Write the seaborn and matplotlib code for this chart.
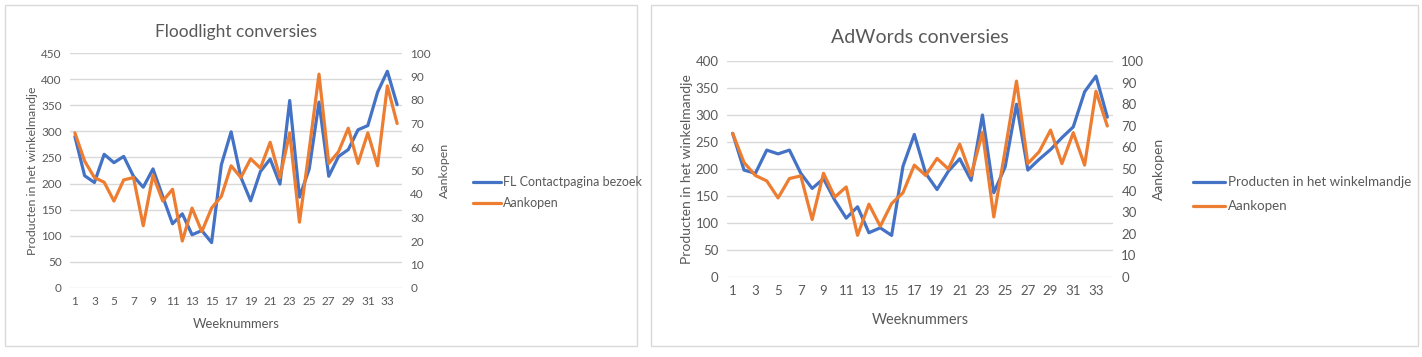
import matplotlib
matplotlib.use("Agg")
import matplotlib.pyplot as plt
from matplotlib.patches import Rectangle
import seaborn as sns
import pandas as pd

weeks = list(range(1, 35))

# Floodlight chart
fl_contact = [290, 215, 202, 256, 240, 252, 214, 193, 228, 175, 123, 142, 102, 110, 87, 236, 299,
              212, 167, 223, 247, 199, 359, 174, 228, 356, 214, 252, 265, 303, 311, 375, 415, 351]
fl_aankopen = [66, 54, 47, 45, 37, 46, 47, 26.5, 48, 37, 42, 20, 34, 24, 34, 39, 52,
               47, 55, 51, 62, 47, 66, 28, 59, 91, 53, 58, 68, 53, 66, 52, 86, 70]

# AdWords chart
aw_winkelmandje = [266, 198, 192, 235, 228, 235, 192, 164, 182, 142, 109, 130, 82, 91, 77, 205, 264,
                   192, 162, 196, 219, 179, 300, 156, 204, 320, 198, 218, 236, 258, 278, 343, 372, 296]
aw_aankopen = [66.5, 53, 47, 44.5, 36.6, 45.6, 46.8, 26.6, 48, 37, 41.7, 19.3, 33.7, 23.5, 34, 39, 51.8,
               47, 54.9, 50, 61.5, 47, 67, 27.8, 58.7, 90.7, 52.5, 58, 68, 52.5, 66.8, 51.8, 86, 69.9]

week_ticks = list(range(1, 35, 2))

BLUE = "#4472C4"
ORANGE = "#ED7D31"
GREY_TXT = "#595959"
GRID = "#D9D9D9"

sns.set_style("white")
plt.rcParams["font.family"] = ["Lato", "DejaVu Sans"]

W, H = 1422, 357
fig = plt.figure(figsize=(W / 100, H / 100), dpi=100)


def px_box(x0, y0, x1, y1):
    return [x0 / W, 1 - y1 / H, (x1 - x0) / W, (y1 - y0) / H]


def draw_chart(box, title, left_vals, left_label, right_vals, left_max, scale, title_pad, xlab_pad):
    df = pd.DataFrame({"week": weeks, "left": left_vals, "right": right_vals})
    ax = fig.add_axes(px_box(*box))
    ax2 = ax.twinx()
    sns.lineplot(data=df, x="week", y="left", ax=ax, color=BLUE, linewidth=2.3, label=left_label, legend=False)
    sns.lineplot(data=df, x="week", y="right", ax=ax2, color=ORANGE, linewidth=2.3, label="Aankopen", legend=False)

    ax.set_xlim(0.5, 34.5)
    ax.set_ylim(0, left_max)
    ax.set_yticks(range(0, left_max + 1, 50))
    ax2.set_ylim(0, 100)
    ax2.set_yticks(range(0, 101, 10))
    ax.set_xticks(week_ticks)

    fs = 8.5 * scale
    ax.grid(axis="y", color=GRID, linewidth=1)
    ax.set_axisbelow(True)
    for a in (ax, ax2):
        for s in a.spines.values():
            s.set_visible(False)
        a.tick_params(length=0, labelsize=fs, labelcolor=GREY_TXT, pad=6)
    ax.set_xlabel("Weeknummers", fontsize=fs * 1.1, color=GREY_TXT, labelpad=xlab_pad)
    ax.set_ylabel("Producten in het winkelmandje", fontsize=fs * 1.05, color=GREY_TXT, labelpad=2)
    ax2.set_ylabel("Aankopen", fontsize=fs * 1.05, color=GREY_TXT, labelpad=6)
    ax.set_title(title, fontsize=12.5 * scale, color=GREY_TXT, pad=title_pad)
    return ax, ax2


# panel borders
for x0, x1 in [(5, 637), (651, 1418)]:
    fig.patches.append(Rectangle((x0 / W, 1 - 346 / H), (x1 - x0) / W, 341 / H,
                                 transform=fig.transFigure, fill=False, edgecolor=GRID, linewidth=1))

ax_l, ax_l2 = draw_chart((70, 53, 402, 288), "Floodlight conversies", fl_contact,
                         "FL Contactpagina bezoek", fl_aankopen, 450, 1.0, 11.5, 8)
ax_r, ax_r2 = draw_chart((727, 61, 1113, 277), "AdWords conversies", aw_winkelmandje,
                         "Producten in het winkelmandje", aw_aankopen, 400, 1.12, 13, 11)

for ax, ax2, x, y, fs, hl, sp in [(ax_l, ax_l2, 473, 192.5, 9, 2.2, 0.7),
                                  (ax_r, ax_r2, 1193, 194.5, 9.6, 2.4, 0.9)]:
    handles = ax.get_lines()[:1] + ax2.get_lines()[:1]
    fig.legend(handles, [h.get_label() for h in handles], loc="center left",
               bbox_to_anchor=(x / W, 1 - y / H), frameon=False, fontsize=fs,
               labelcolor=GREY_TXT, handlelength=hl, handletextpad=0.2,
               borderpad=0, borderaxespad=0, labelspacing=sp)

fig.savefig("out.png", dpi=100)
